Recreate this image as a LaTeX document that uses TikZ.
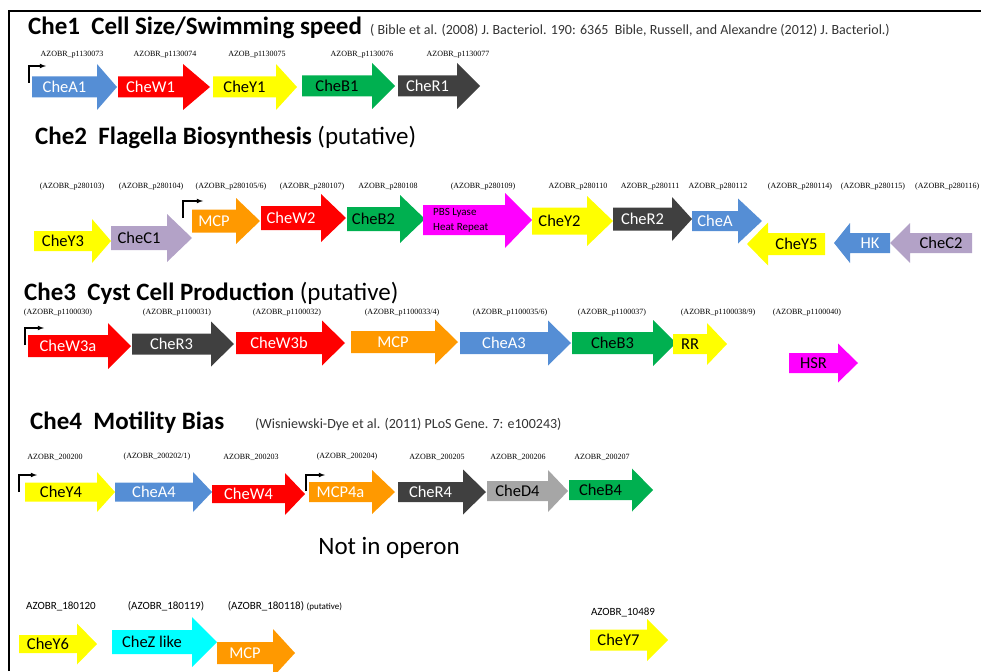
\documentclass[tikz,border=0pt]{standalone}
\usepackage{fontspec}
\setmainfont{Carlito}
\newfontfamily\idfont{Liberation Serif}
\usepackage{xcolor}
\usepackage{tikz}
\usetikzlibrary{arrows}

\definecolor{cheblue}{RGB}{85,142,213}
\definecolor{chered}{RGB}{255,0,0}
\definecolor{cheyellow}{RGB}{255,255,0}
\definecolor{chegreen}{RGB}{0,176,80}
\definecolor{chedark}{RGB}{64,64,64}
\definecolor{chelav}{RGB}{179,162,199}
\definecolor{cheorange}{RGB}{255,153,0}
\definecolor{chemag}{RGB}{255,0,255}
\definecolor{checyan}{RGB}{0,255,255}
\definecolor{chegray}{RGB}{166,166,166}

\tikzset{
  gid/.style={font=\idfont\fontsize{8}{9}\selectfont, inner sep=0pt},
  sid/.style={font=\fontsize{11}{12}\selectfont, inner sep=0pt},
  glabel/.style={font=\fontsize{16.5}{18}\selectfont, inner sep=0pt},
  head/.style={anchor=base west, inner sep=0pt, font=\fontsize{25}{28}\selectfont},
  cite/.style={anchor=base west, inner sep=0pt, font=\fontsize{14}{16}\selectfont, text=black!80},
  promo/.style={line width=1.1pt, -latex},
  on cheblue/.style={text=white},
  on chered/.style={text=white},
  on chedark/.style={text=white},
  on cheorange/.style={text=white},
  on cheyellow/.style={text=black},
  on chegreen/.style={text=black},
  on chelav/.style={text=black},
  on chemag/.style={text=black},
  on checyan/.style={text=black},
  on chegray/.style={text=black},
}

% gene arrow: name, x back, x neck, x tip, y centre, half body, half head, colour, label
\newcommand{\gene}[9]{%
  \fill[#8] (#2,#5-#6) -- (#3,#5-#6) -- (#3,#5-#7) -- (#4,#5) -- (#3,#5+#7)
    -- (#3,#5+#6) -- (#2,#5+#6) -- cycle;
  \node[glabel, on #8] (#1) at ({(#2+#3)/2},#5) {#9};}

\begin{document}
\begin{tikzpicture}[x=1pt,y=-1pt]
	\useasboundingbox (0,0) rectangle (981,671);
	\draw[line width=2pt] (9,671) -- (9,11) -- (981,11);

	% Che1
	\node[head] (h1) at (28,35) {\bfseries Che1\ \ Cell Size/Swimming speed};
	\node[cite] (c1) at (370,35) {( Bible et al. (2008) J. Bacteriol. 190: 6365\ \ Bible, Russell, and Alexandre (2012) J. Bacteriol.)};
	\node[gid] (i11) at (72,55) {AZOBR\_p1130073};
	\node[gid] (i12) at (165,55) {AZOBR\_p1130074};
	\node[gid] (i13) at (257,55) {AZOB\_p1130075};
	\node[gid] (i14) at (362,55) {AZOBR\_p1130076};
	\node[gid] (i15) at (458,55) {AZOBR\_p1130077};
	\gene{a1}{32}{97}{117}{87}{10.5}{23}{cheblue}{CheA1}
	\gene{w1}{118}{183}{210}{87}{10.5}{23}{chered}{CheW1}
	\gene{y1}{213}{276}{297}{87}{10.5}{23}{cheyellow}{CheY1}
	\gene{b1}{302}{372}{395}{86}{10.5}{23}{chegreen}{CheB1}
	\gene{r1}{398}{457}{480}{86}{10.5}{23}{chedark}{CheR1}
	\coordinate (p1a) at (29,83);
	\coordinate (p1b) at (29,66);
	\coordinate (p1c) at (46,66);
	\draw[promo] (p1a) -- (p1b) -- (p1c);

	% Che2
	\node[head] (h2) at (35,145) {\textbf{Che2\ \ Flagella Biosynthesis} (putative)};
	\node[gid] (i21) at (72,187) {(AZOBR\_p280103)};
	\node[gid] (i22) at (151,187) {(AZOBR\_p280104)};
	\node[gid] (i23) at (231,187) {(AZOBR\_p280105/6)};
	\node[gid] (i24) at (312,187) {(AZOBR\_p280107)};
	\node[gid] (i25) at (388,187) {AZOBR\_p280108};
	\node[gid] (i26) at (483,187) {(AZOBR\_p280109)};
	\node[gid] (i27) at (578,187) {AZOBR\_p280110};
	\node[gid] (i28) at (650,187) {AZOBR\_p280111};
	\node[gid] (i29) at (718,187) {AZOBR\_p280112};
	\node[gid] (i210) at (800,187) {(AZOBR\_p280114)};
	\node[gid] (i211) at (873,187) {(AZOBR\_p280115)};
	\node[gid, anchor=west] (i212) at (915,187) {(AZOBR\_p280116)};
	\gene{y3}{34}{92}{111}{241}{10}{22}{cheyellow}{CheY3}
	\gene{c1}{111}{167}{192}{238}{12}{24}{chelav}{CheC1}
	\gene{m2}{192}{236}{260}{221}{11.5}{23}{cheorange}{MCP}
	\gene{w2}{261}{321}{346}{218}{12}{24}{chered}{CheW2}
	\gene{b2}{347}{400}{425}{219}{12}{24}{chegreen}{CheB2}
	\fill[chemag] (423,205) -- (505,205) -- (505,193) -- (532,220) -- (505,248) -- (505,235) -- (423,235) -- cycle;
	\node[anchor=west, align=left, inner sep=0pt, font=\fontsize{11}{15}\selectfont] (pbs) at (433,220) {PBS Lyase\\Heat Repeat};
	\gene{y2}{532}{587}{613}{221}{13.5}{25}{cheyellow}{CheY2}
	\gene{r2}{613}{672}{692}{219}{11.5}{22}{chedark}{CheR2}
	\gene{a2}{692}{738}{762}{221}{10}{22.5}{cheblue}{CheA}
	\gene{y5}{825}{768}{747}{244}{11}{21.5}{cheyellow}{CheY5}
	\gene{hk}{890}{850}{834}{243}{10}{20}{cheblue}{HK}
	\gene{c2}{972}{910}{890}{243}{10}{20}{chelav}{CheC2}
	\coordinate (p2a) at (183,218);
	\coordinate (p2b) at (183,201);
	\coordinate (p2c) at (203,201);
	\draw[promo] (p2a) -- (p2b) -- (p2c);

	% Che3
	\node[head] (h3) at (24,300) {\textbf{Che3\ \ Cyst Cell Production} (putative)};
	\node[gid] (i31) at (58,313) {(AZOBR\_p1100030)};
	\node[gid] (i32) at (177,313) {(AZOBR\_p1100031)};
	\node[gid] (i33) at (287,313) {(AZOBR\_p1100032)};
	\node[gid] (i34) at (402,313) {(AZOBR\_p1100033/4)};
	\node[gid] (i35) at (510,313) {(AZOBR\_p1100035/6)};
	\node[gid] (i36) at (612,313) {(AZOBR\_p1100037)};
	\node[gid] (i37) at (718,313) {(AZOBR\_p1100038/9)};
	\node[gid] (i38) at (807,313) {(AZOBR\_p1100040)};
	\gene{w3a}{28}{108}{131}{346}{11}{23}{chered}{CheW3a}
	\gene{r3}{132}{211}{234}{344}{10.5}{22.5}{chedark}{CheR3}
	\gene{w3b}{236}{322}{345}{343}{11}{22.5}{chered}{CheW3b}
	\gene{m3}{351}{435}{458}{342}{11}{22.5}{cheorange}{MCP}
	\gene{a3}{460}{548}{571}{343}{11}{22.5}{cheblue}{CheA3}
	\gene{b3}{572}{653}{676}{343}{11}{23}{chegreen}{CheB3}
	\gene{rr}{673}{707}{727}{344}{10}{21}{cheyellow}{RR}
	\gene{hsr}{789}{838}{858}{363}{10}{19.5}{chemag}{HSR}
	\coordinate (p3a) at (25,345);
	\coordinate (p3b) at (25,328);
	\coordinate (p3c) at (44,328);
	\draw[promo] (p3a) -- (p3b) -- (p3c);

	% Che4
	\node[head] (h4) at (30,429) {\bfseries Che4\ \ Motility Bias};
	\node[cite] (c4) at (255,428) {(Wisniewski-Dye et al. (2011) PLoS Gene. 7: e100243)};
	\node[gid] (i41) at (55,457) {AZOBR\_200200};
	\node[gid] (i42) at (157,457) {(AZOBR\_200202/1)};
	\node[gid] (i43) at (251,457) {AZOBR\_200203};
	\node[gid] (i44) at (347,457) {(AZOBR\_200204)};
	\node[gid] (i45) at (437,457) {AZOBR\_200205};
	\node[gid] (i46) at (518,457) {AZOBR\_200206};
	\node[gid] (i47) at (602,457) {AZOBR\_200207};
	\gene{y4}{25}{97}{115}{492}{9.5}{20}{cheyellow}{CheY4}
	\gene{a4}{115}{193}{212}{492}{9.5}{20}{cheblue}{CheA4}
	\gene{w4}{212}{285}{305}{494}{9}{21}{chered}{CheW4}
	\gene{m4}{309}{372}{395}{492}{10}{22}{cheorange}{MCP4a}
	\gene{r4}{398}{463}{486}{492}{10}{22.5}{chedark}{CheR4}
	\gene{d4}{487}{548}{568}{491}{10}{21}{chegray}{CheD4}
	\gene{b4}{569}{632}{653}{490}{10}{21.5}{chegreen}{CheB4}
	\coordinate (p4a) at (19,492);
	\coordinate (p4b) at (19,475);
	\coordinate (p4c) at (37,475);
	\draw[promo] (p4a) -- (p4b) -- (p4c);
	\coordinate (p5a) at (306,491);
	\coordinate (p5b) at (306,475);
	\coordinate (p5c) at (325,475);
	\draw[promo] (p5a) -- (p5b) -- (p5c);

	% not in operon
	\node[inner sep=0pt, font=\fontsize{25}{28}\selectfont] (nio) at (389,548) {Not in operon};
	\node[sid] (i51) at (61,606) {AZOBR\_180120};
	\node[sid] (i52) at (166,606) {(AZOBR\_180119)};
	\node[sid] (i53) at (285,606) {(AZOBR\_180118) {\fontsize{9}{10}\selectfont(putative)}};
	\node[sid] (i54) at (623,612) {AZOBR\_10489};
	\gene{y6}{19}{77}{97}{644}{9}{20.5}{cheyellow}{CheY6}
	\gene{z6}{112}{192}{217}{642}{12}{25}{checyan}{CheZ like}
	\gene{m6}{217}{273}{295}{653}{11}{24}{cheorange}{MCP}
	\gene{y7}{590}{647}{668}{640}{10.5}{21}{cheyellow}{CheY7}
\end{tikzpicture}
\end{document}
